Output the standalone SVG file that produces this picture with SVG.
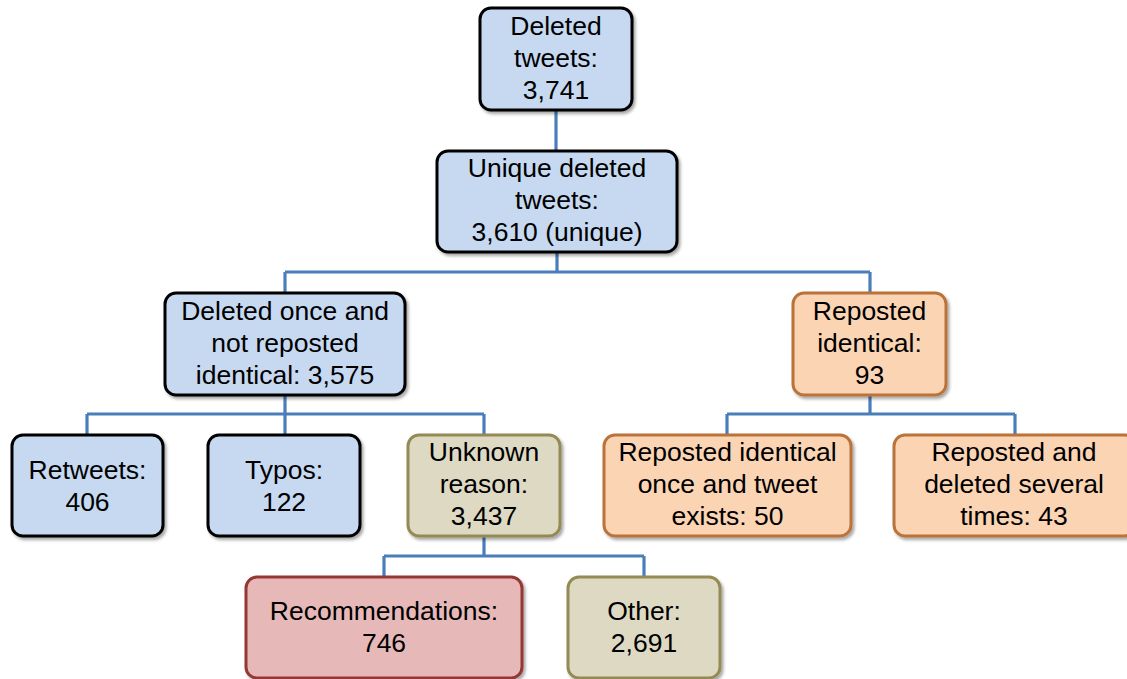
<svg xmlns="http://www.w3.org/2000/svg" width="1127" height="679" viewBox="0 0 1127 679">
<defs>
<filter id="sh" x="-10%" y="-10%" width="130%" height="130%">
<feDropShadow dx="2" dy="2.5" stdDeviation="1.5" flood-color="#000" flood-opacity="0.35"/>
</filter>
</defs>
<style>
.box{stroke-width:3;filter:url(#sh)}
.blue{fill:#C6D9F1;stroke:#000}
.orange{fill:#FBD4B4;stroke:#B9733A}
.tan{fill:#DDD9C3;stroke:#948A54}
.red{fill:#E6B9B8;stroke:#953735}
text{font-family:"Liberation Sans",Arial,sans-serif;font-size:26.5px;fill:#000;text-anchor:middle}
.conn{fill:none;stroke:#4A7EBB;stroke-width:3.2}
</style>
<rect width="1127" height="679" fill="#fff"/>
<g id="connectors" class="conn">
<path d="M556 110V151"/>
<path d="M557 252V272M285 272H870M285 272V293M870 272V293"/>
<path d="M285 395V414M87 414H484M87 414V435M285 414V435M484 414V435"/>
<path d="M870 395V414M727 414H1015M727 414V435M1015 414V435"/>
<path d="M484 536V556M384 556H644M384 556V577M644 556V577"/>
</g>
<g id="n1"><rect class="box blue" x="480" y="8" width="152" height="102" rx="11"/>
<text x="556" y="35">Deleted</text><text x="556" y="67">tweets:</text><text x="556" y="99">3,741</text></g>
<g id="n2"><rect class="box blue" x="437" y="151" width="240" height="101" rx="11"/>
<text x="557" y="177">Unique deleted</text><text x="557" y="209">tweets:</text><text x="557" y="241">3,610 (unique)</text></g>
<g id="n3"><rect class="box blue" x="165" y="293" width="240" height="102" rx="11"/>
<text x="285" y="320">Deleted once and</text><text x="285" y="352">not reposted</text><text x="285" y="384">identical: 3,575</text></g>
<g id="n4"><rect class="box orange" x="793" y="293" width="153" height="102" rx="11"/>
<text x="869.5" y="320">Reposted</text><text x="869.5" y="352">identical:</text><text x="869.5" y="384">93</text></g>
<g id="n5"><rect class="box blue" x="12" y="435" width="151" height="101" rx="11"/>
<text x="87.5" y="479">Retweets:</text><text x="87.5" y="511">406</text></g>
<g id="n6"><rect class="box blue" x="208" y="435" width="152" height="101" rx="11"/>
<text x="284" y="479">Typos:</text><text x="284" y="511">122</text></g>
<g id="n7"><rect class="box tan" x="408" y="435" width="152" height="101" rx="11"/>
<text x="484" y="461">Unknown</text><text x="484" y="493">reason:</text><text x="484" y="525">3,437</text></g>
<g id="n8"><rect class="box orange" x="604" y="435" width="247" height="101" rx="11"/>
<text x="727.5" y="461">Reposted identical</text><text x="727.5" y="493">once and tweet</text><text x="727.5" y="525">exists: 50</text></g>
<g id="n9"><rect class="box orange" x="894" y="435" width="242" height="101" rx="11"/>
<text x="1014" y="461">Reposted and</text><text x="1014" y="493">deleted several</text><text x="1014" y="525">times: 43</text></g>
<g id="n10"><rect class="box red" x="246" y="577" width="276" height="101" rx="11"/>
<text x="384" y="620">Recommendations:</text><text x="384" y="652">746</text></g>
<g id="n11"><rect class="box tan" x="568" y="577" width="152" height="101" rx="11"/>
<text x="644" y="620">Other:</text><text x="644" y="652">2,691</text></g>
</svg>
